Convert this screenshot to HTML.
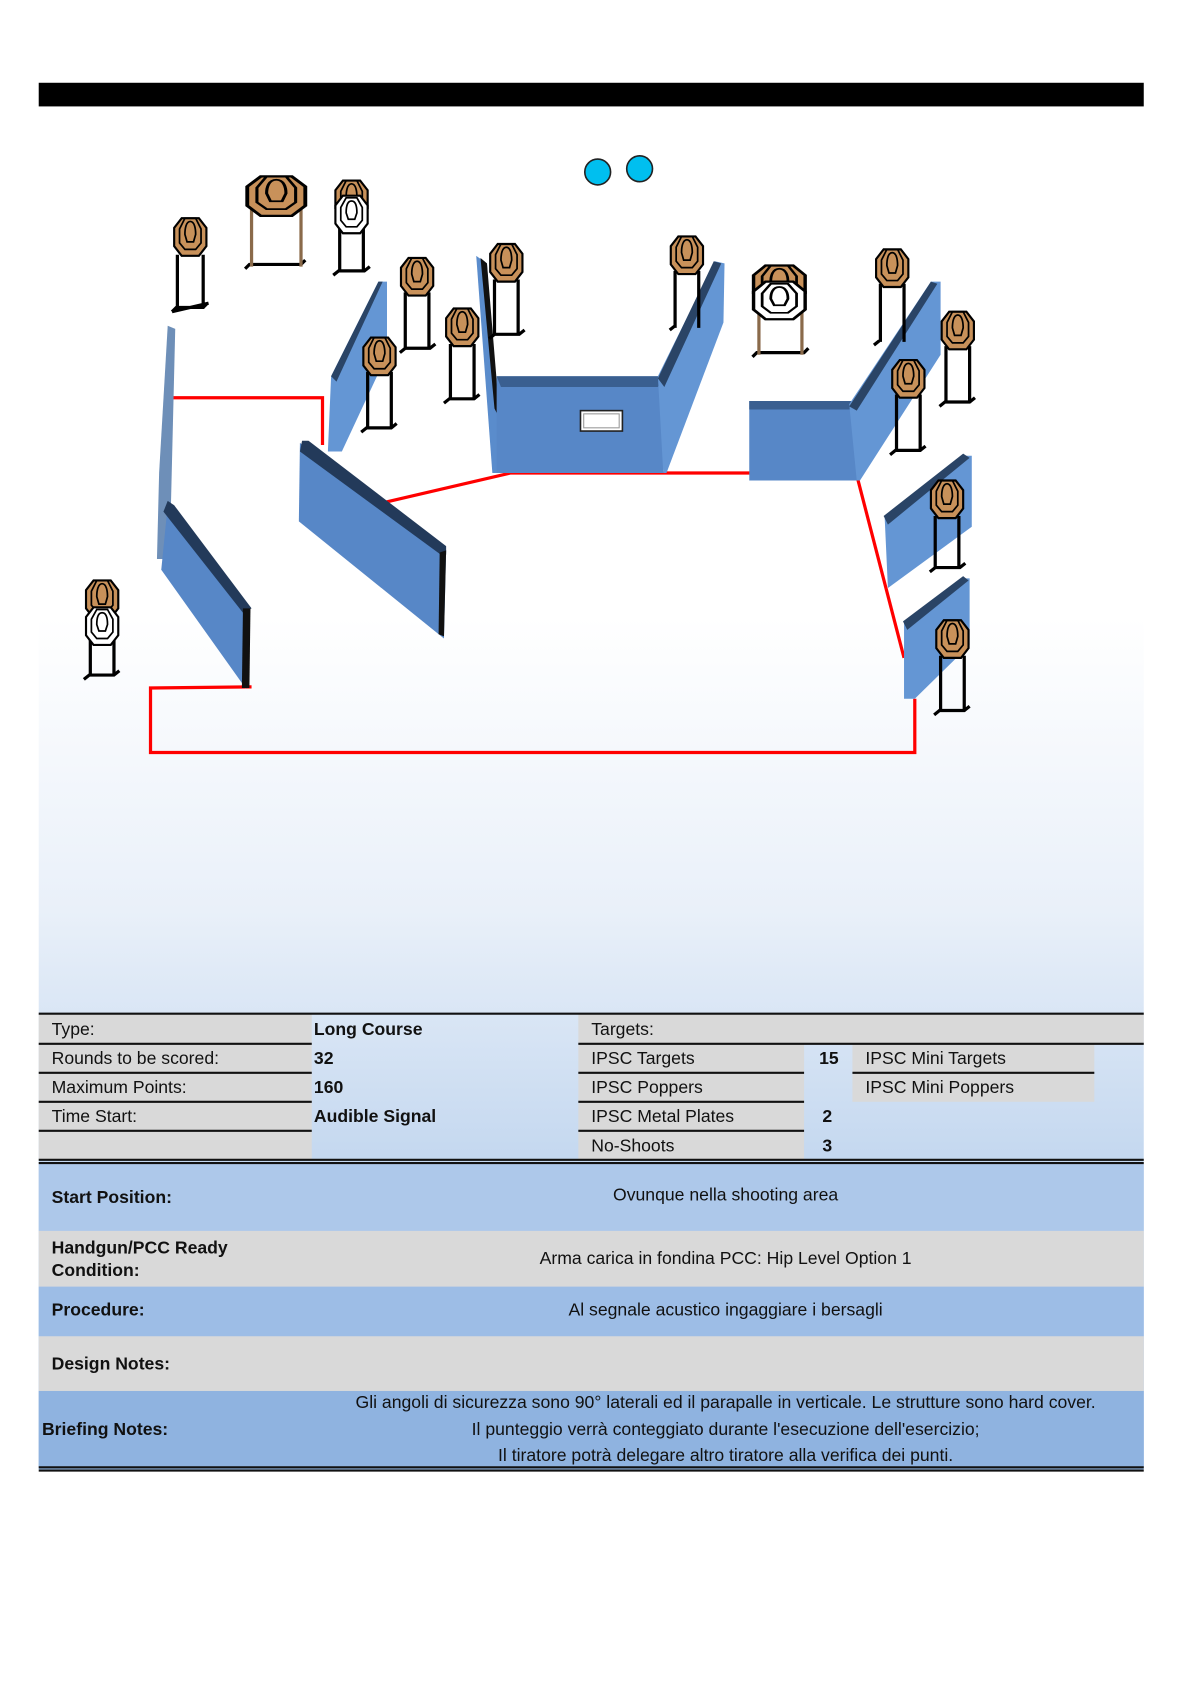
<!DOCTYPE html>
<html><head><meta charset="utf-8"><style>
html,body{margin:0;padding:0;background:#fff}
svg{display:block}
text{font-family:"Liberation Sans",Arial,sans-serif;font-size:16.4px;fill:#111}
.b{font-weight:bold}
</style></head><body>
<svg width="1190" height="1684" viewBox="0 0 1107 1566.6" xmlns="http://www.w3.org/2000/svg">
<defs>
<linearGradient id="bg" x1="0" y1="0" x2="0" y2="1">
<stop offset="0" stop-color="#ffffff"/>
<stop offset="0.42" stop-color="#ffffff"/>
<stop offset="0.62" stop-color="#e9f0f9"/>
<stop offset="0.78" stop-color="#c6d9f0"/>
<stop offset="0.9" stop-color="#a9c6ea"/>
<stop offset="1" stop-color="#8db2e0"/>
</linearGradient>
<g id="tg">
<polygon points="-8,-18 8,-18 15,-9 15,8 8,17 -8,17 -15,8 -15,-9" fill="#c8915a" stroke="#000" stroke-width="2"/>
<polygon points="-5,-18 5,-18 10,-8 10,5 5,11 -5,11 -10,5 -10,-8" fill="none" stroke="#000" stroke-width="1.6"/>
<path d="M0,-15 C4,-15 5,-8 5,-3 L3,4 L-3,4 L-5,-3 C-5,-8 -4,-15 0,-15Z" fill="none" stroke="#000" stroke-width="1.6"/>
</g>
<g id="ns">
<polygon points="-8,-18 8,-18 15,-9 15,8 8,17 -8,17 -15,8 -15,-9" fill="#fff" stroke="#000" stroke-width="2"/>
<polygon points="-5,-16 5,-16 10,-7 10,5 5,11 -5,11 -10,5 -10,-7" fill="none" stroke="#000" stroke-width="1.6"/>
<path d="M0,-13 C4,-13 5,-7 5,-2 L3,4 L-3,4 L-5,-2 C-5,-7 -4,-13 0,-13Z" fill="none" stroke="#000" stroke-width="1.6"/>
</g>
</defs>
<rect x="36" y="0" width="1028" height="1367" fill="url(#bg)"/>
<rect x="36" y="77" width="1028" height="22" fill="#000"/>

<g fill="none" stroke="#f00" stroke-width="3">
<polyline points="160,370 300,370 300,414"/>
<polyline points="355,468 475,440 698,440"/>
<polyline points="798,446 841,612"/>
<polyline points="851,650 851,700 140,700 140,640 234,639"/>
</g>

<g stroke="none">
<polygon points="156,303 163,306 159,470 152,520 146,520 148,440" fill="#6e8fb8"/>
<polygon points="156,470 232,566 229,641 150,530" fill="#5787c7"/>
<polygon points="156,466 162,470 234,566 226,570 152,476" fill="#233a5a"/>
<polygon points="226,566 233,566 232,640 225,640" fill="#111"/>
<polygon points="308,350 352,262 360,262 360,330 318,420 305,420" fill="#6496d4"/>
<polygon points="308,350 352,262 356,262 313,355" fill="#2a4466"/>
<polygon points="279,412 415,512 413,594 278,485" fill="#5787c7"/>
<polygon points="281,410 287,410 415,508 415,516 410,516 279,420" fill="#233a5a"/>
<polygon points="409,514 415,512 413,592 408,590" fill="#111"/>
<polygon points="443,238 453,245 466,440 458,440" fill="#5a8ccc"/>
<polygon points="447,240 453,245 465,390 460,380" fill="#111"/>
<polygon points="462,350 617,350 617,440 462,440" fill="#5787c7"/>
<polygon points="462,350 617,350 612,360 466,360" fill="#3a5f90"/>
<polygon points="612,350 665,243 674,245 673,300 620,440 617,440" fill="#6496d4"/>
<polygon points="612,352 664,243 671,245 618,360" fill="#2a4466"/>
<rect x="540" y="382" width="39" height="19" fill="#fff" stroke="#222" stroke-width="1.5"/>
<rect x="543" y="385" width="33" height="13" fill="#fff" stroke="#999" stroke-width="1"/>
<polygon points="697,373 800,373 800,447 697,447" fill="#5787c7"/>
<polygon points="697,373 800,373 795,381 697,381" fill="#3a5f90"/>
<polygon points="790,376 866,262 875,262 875,330 800,447 797,447" fill="#6496d4"/>
<polygon points="790,378 866,262 872,264 797,382" fill="#2a4466"/>
<polygon points="823,482 897,424 904,424 904,490 826,547" fill="#6496d4"/>
<polygon points="822,480 896,422 902,426 826,488" fill="#2a4466"/>
<polygon points="841,580 897,538 902,538 902,600 851,650 841,650" fill="#6496d4"/>
<polygon points="840,578 896,536 901,540 844,586" fill="#2a4466"/>
</g>

<g stroke="#000" stroke-width="3" fill="none">
<path d="M165,237V287M189,237V287M160,290l4,-4h25l4,-4M160,290l34,-8"/>
<path d="M316,210V253M338,210V253M310,256l5,-4h24l5,-4"/>
<path d="M377,272V325M399,272V325M372,328l5,-4h23l5,-4"/>
<path d="M460,260V312M482,260V312M455,315l5,-4h23l5,-4"/>
<path d="M419,320V372M441,320V372M413,375l5,-4h23l5,-4"/>
<path d="M342,346V398M364,346V398M336,402l5,-4h23l5,-4"/>
<path d="M628,252V305M650,252V305M623,307l5,-4"/>
<path d="M819,264V318M841,264V318M813,321l5,-4"/>
<path d="M880,322V375M902,322V375M874,378l5,-4h23l5,-4"/>
<path d="M834,367V420M856,367V420M828,423l5,-4h23l5,-4"/>
<path d="M870,480V528M892,480V528M865,532l5,-4h23l5,-4"/>
<path d="M875,610V662M897,610V662M869,665l5,-4h23l5,-4"/>
<path d="M84,595V628M106,595V628M78,632l5,-4h23l5,-4"/>
<path d="M228,250l4,-4h48l4,-4M700,332l4,-4h44l4,-4"/>
</g>
<g stroke="#8a6a4a" stroke-width="3"><path d="M234,195V248M280,195V248M706,290V330M746,290V330"/></g>
<use href="#tg" x="177" y="221"/>
<g transform="translate(257,183) scale(1.8,1.05)"><use href="#tg"/></g>
<use href="#tg" x="327" y="186"/><use href="#ns" x="327" y="200"/>
<use href="#tg" x="388" y="258"/>
<use href="#tg" x="471" y="245"/>
<use href="#tg" x="430" y="305"/>
<use href="#tg" x="353" y="332"/>
<use href="#tg" x="639" y="238"/>
<g transform="translate(725,265) scale(1.6,1)"><use href="#tg"/></g>
<g transform="translate(725,280) scale(1.6,1)"><use href="#ns"/></g>
<use href="#tg" x="830" y="250"/>
<use href="#tg" x="891" y="308"/>
<use href="#tg" x="845" y="353"/>
<use href="#tg" x="881" y="465"/>
<use href="#tg" x="886" y="595"/>
<use href="#tg" x="95" y="558"/><use href="#ns" x="95" y="583"/>

<ellipse cx="556" cy="160" rx="12" ry="12" fill="#00bfef" stroke="#222" stroke-width="1.5"/>
<ellipse cx="595" cy="157" rx="12" ry="12" fill="#00bfef" stroke="#222" stroke-width="1.5"/>

<g fill="#d9d9d9">
<rect x="36" y="943" width="254" height="136"/>
<rect x="538" y="943" width="526" height="28"/>
<rect x="538" y="971" width="210" height="108"/>
<rect x="793" y="971" width="225" height="54"/>
<rect x="36" y="1145" width="1028" height="52"/>
<rect x="36" y="1243" width="1028" height="51"/>
</g>
<rect x="36" y="1083" width="1028" height="62" fill="#adc8ea"/>
<rect x="36" y="1197" width="1028" height="46" fill="#9dbde6"/>
<rect x="36" y="1294" width="1028" height="71" fill="#8fb3e0"/>
<g stroke="#111" stroke-width="2">
<line x1="36" y1="943" x2="1064" y2="943"/>
<line x1="36" y1="971" x2="290" y2="971"/><line x1="538" y1="971" x2="1064" y2="971"/>
<line x1="36" y1="998" x2="290" y2="998"/><line x1="538" y1="998" x2="748" y2="998"/><line x1="793" y1="998" x2="1018" y2="998"/>
<line x1="36" y1="1025" x2="290" y2="1025"/><line x1="538" y1="1025" x2="748" y2="1025"/>
<line x1="36" y1="1052" x2="290" y2="1052"/><line x1="538" y1="1052" x2="748" y2="1052"/>
<line x1="36" y1="1079" x2="1064" y2="1079"/><line x1="36" y1="1082" x2="1064" y2="1082"/>
<line x1="36" y1="1365" x2="1064" y2="1365"/><line x1="36" y1="1368" x2="1064" y2="1368"/>
</g>
<text x="48" y="963">Type:</text>
<text x="48" y="990">Rounds to be scored:</text>
<text x="48" y="1017">Maximum Points:</text>
<text x="48" y="1044">Time Start:</text>
<text x="292" y="963" class="b">Long Course</text>
<text x="292" y="990" class="b">32</text>
<text x="292" y="1017" class="b">160</text>
<text x="292" y="1044" class="b">Audible Signal</text>
<text x="550" y="963">Targets:</text>
<text x="550" y="990">IPSC Targets</text>
<text x="550" y="1017">IPSC Poppers</text>
<text x="550" y="1044">IPSC Metal Plates</text>
<text x="550" y="1071">No-Shoots</text>
<text x="762" y="990" class="b">15</text>
<text x="765" y="1044" class="b">2</text>
<text x="765" y="1071" class="b">3</text>
<text x="805" y="990">IPSC Mini Targets</text>
<text x="805" y="1017">IPSC Mini Poppers</text>
<text x="48" y="1119" class="b">Start Position:</text>
<text x="675" y="1117" text-anchor="middle">Ovunque nella shooting area</text>
<text x="48" y="1166" class="b">Handgun/PCC Ready</text>
<text x="48" y="1187" class="b">Condition:</text>
<text x="675" y="1176" text-anchor="middle">Arma carica in fondina PCC: Hip Level Option 1</text>
<text x="48" y="1224" class="b">Procedure:</text>
<text x="675" y="1224" text-anchor="middle">Al segnale acustico ingaggiare i bersagli</text>
<text x="48" y="1274" class="b">Design Notes:</text>
<text x="39" y="1335" class="b">Briefing Notes:</text>
<text x="675" y="1310" text-anchor="middle">Gli angoli di sicurezza sono 90° laterali ed il parapalle in verticale. Le strutture sono hard cover.</text>
<text x="675" y="1335" text-anchor="middle">Il punteggio verrà conteggiato durante l'esecuzione dell'esercizio;</text>
<text x="675" y="1359" text-anchor="middle">Il tiratore potrà delegare altro tiratore alla verifica dei punti.</text>
</svg>
</body></html>
